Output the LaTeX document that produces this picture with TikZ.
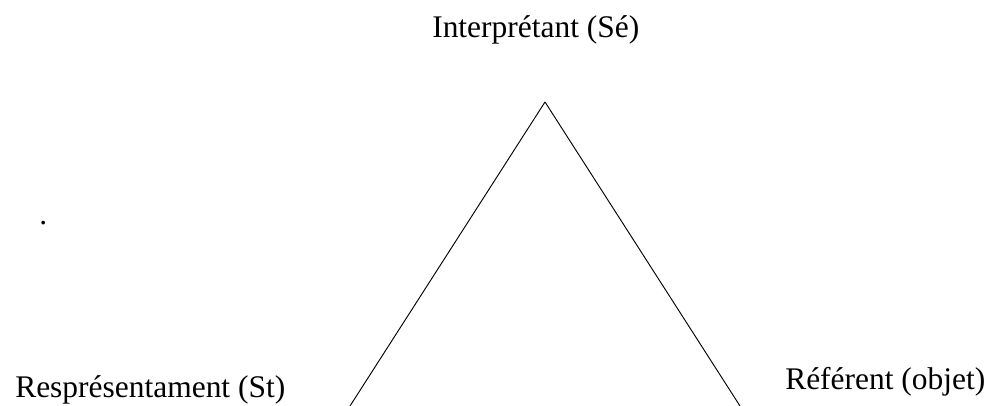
\documentclass[tikz,border=0pt]{standalone}
\usepackage{fontspec}
\setmainfont{Liberation Serif}
\usepackage{tikz}
\usetikzlibrary{positioning}

\begin{document}
\begin{tikzpicture}[x=0.75pt,y=0.75pt,every node/.style={font=\fontsize{23.6}{28}\selectfont,inner sep=0pt}]
  \tikzstyle{LabelStyle}=[anchor=base west]
  \useasboundingbox (0,0) rectangle (988,406);

  \coordinate (apex) at (545,304);
  \coordinate (left) at (350,0);
  \coordinate (right) at (740,0);

  \node[LabelStyle] (interp) at (432,368) {Interprétant (Sé)};
  \node[LabelStyle] (repr) at (15,8) {Resprésentament (St)};
  \node[LabelStyle] (ref) at (785,16) {Référent (objet)};
  \node[LabelStyle] (dot) at (39,181) {.};

  \draw[line width=0.7pt] (left) -- (apex);
  \draw[line width=0.7pt] (apex) -- (right);
\end{tikzpicture}
\end{document}
